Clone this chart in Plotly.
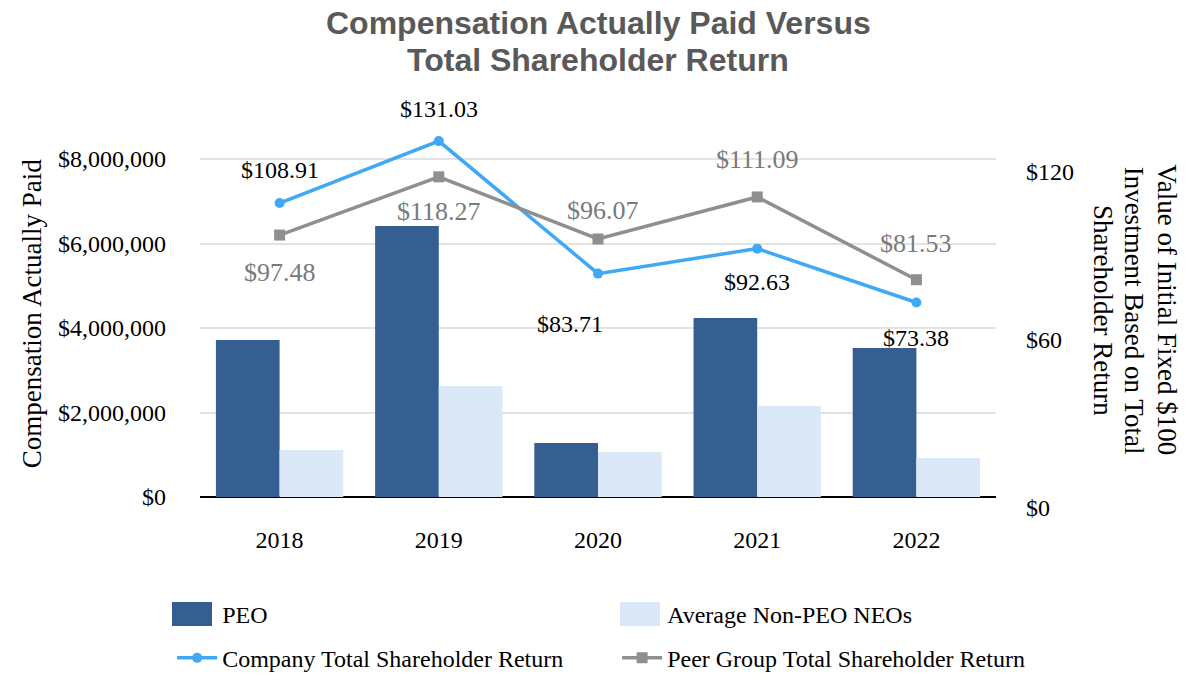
import plotly.graph_objects as go

years = ["2018", "2019", "2020", "2021", "2022"]
peo_cap = [3716000, 6414000, 1278000, 4237000, 3527000]
neo_cap = [1112000, 2627000, 1065000, 2154000, 923000]
company_tsr = [108.91, 131.03, 83.71, 92.63, 73.38]
peer_tsr = [97.48, 118.27, 96.07, 111.09, 81.53]

# label placement (style only): (xshift, yshift) in px
company_label_shift = [(0, 33), (0, 32), (-28, -50), (0, -33), (0, -35)]
peer_label_shift = [(0, -37), (0, -35), (5, 29), (0, 37), (0, 36)]

SERIF = "Liberation Serif, Times New Roman, serif"
SANS = "Liberation Sans, Arial, sans-serif"
PEO_COLOR = "#365f91"
NEO_COLOR = "#dae8f7"

fig = go.Figure()
fig.add_trace(go.Bar(x=years, y=peo_cap, name="PEO", marker_color=PEO_COLOR,
                     marker_line_width=0, legend="legend"))
fig.add_trace(go.Bar(x=years, y=neo_cap, name="Average Non-PEO NEOs",
                     marker_color=NEO_COLOR, marker_line_width=0, legend="legend"))
fig.add_trace(go.Scatter(x=years, y=company_tsr, name="Company Total Shareholder Return",
                         yaxis="y2", mode="lines+markers", legend="legend2",
                         line=dict(color="#3fa9f5", width=3.5),
                         marker=dict(symbol="circle", size=10, color="#3fa9f5")))
fig.add_trace(go.Scatter(x=years, y=peer_tsr, name="Peer Group Total Shareholder Return",
                         yaxis="y2", mode="lines+markers", legend="legend2",
                         line=dict(color="#8f8f8f", width=3.5),
                         marker=dict(symbol="square", size=11, color="#8f8f8f")))

annotations = []
# category axis: annotation x given as category index (numeric strings would be read as indices)
for i, (v, (dx, dy)) in enumerate(zip(company_tsr, company_label_shift)):
    annotations.append(dict(x=i, y=v, xref="x", yref="y2", text=f"${v:.2f}",
                            showarrow=False, xshift=dx, yshift=dy,
                            font=dict(family=SERIF, size=24, color="#000000")))
for i, (v, (dx, dy)) in enumerate(zip(peer_tsr, peer_label_shift)):
    annotations.append(dict(x=i, y=v, xref="x", yref="y2", text=f"${v:.2f}",
                            showarrow=False, xshift=dx, yshift=dy,
                            font=dict(family=SERIF, size=26, color="#7a7a7a")))

annotations.append(dict(x=-0.211, y=0.487, xref="paper", yref="paper",
                        xanchor="center", yanchor="middle",
                        text="Compensation Actually Paid", textangle=-90,
                        showarrow=False, font=dict(family=SERIF, size=27, color="#000")))
right_title_lines = ["Value of Initial Fixed $100", "Investment Based on Total",
                     "Shareholder Return"]
for line, xp in zip(right_title_lines, [1.2148, 1.1728, 1.1347]):
    annotations.append(dict(x=xp, y=0.497, xref="paper", yref="paper",
                            xanchor="center", yanchor="middle",
                            text=line, textangle=90, showarrow=False,
                            font=dict(family=SERIF, size=27, color="#000")))
title_lines = ["Compensation Actually Paid Versus", "Total Shareholder Return"]
for line, yp in zip(title_lines, [1.2186, 1.1256]):
    annotations.append(dict(x=0.5, y=yp, xref="paper", yref="paper", xanchor="center",
                            yanchor="middle", showarrow=False, text=f"<b>{line}</b>",
                            font=dict(family=SANS, size=32, color="#595959")))

# enlarged legend swatches for the bar series (decoration behind the legend icons)
shapes = [
    dict(type="rect", xref="paper", yref="paper", x0=-0.0352, x1=0.0151,
         y0=-0.2965, y1=-0.2362, fillcolor=PEO_COLOR, line_width=0, layer="above"),
    dict(type="rect", xref="paper", yref="paper", x0=0.5276, x1=0.5779,
         y0=-0.2965, y1=-0.2362, fillcolor=NEO_COLOR, line_width=0, layer="above"),
]

legend_common = dict(orientation="h", xanchor="left", yanchor="middle",
                     entrywidth=390, entrywidthmode="pixels",
                     font=dict(family=SERIF, size=24, color="#000"), itemwidth=40,
                     bgcolor="rgba(0,0,0,0)")

fig.update_layout(
    width=1200, height=700, autosize=False,
    margin=dict(l=200, r=204, t=110, b=192),
    paper_bgcolor="white", plot_bgcolor="white",
    barmode="group", bargap=0.2, bargroupgap=0,
    font=dict(family=SERIF, color="#000"),
    xaxis=dict(type="category", range=[-0.5, 4.5], autorange=False,
               tickfont=dict(family=SERIF, size=24, color="#000"),
               showgrid=False, ticks="", ticklabelstandoff=15, showline=False),
    yaxis=dict(range=[-260355, 9159763], autorange=False,
               tickvals=[0, 2000000, 4000000, 6000000, 8000000],
               ticktext=["$0", "$2,000,000", "$4,000,000", "$6,000,000", "$8,000,000"],
               tickfont=dict(family=SERIF, size=24, color="#000"),
               showgrid=True, gridcolor="#e3e3e3", gridwidth=1.5,
               zeroline=True, zerolinecolor="#000", zerolinewidth=1.5,
               ticks="", ticklabelstandoff=33, showline=False),
    yaxis2=dict(overlaying="y", side="right", range=[0, 142.14], autorange=False,
                tickvals=[0, 60, 120], ticktext=["$0", "$60", "$120"],
                tickfont=dict(family=SERIF, size=24, color="#000"),
                showgrid=False, zeroline=False, ticks="", ticklabelstandoff=29,
                showline=False),
    legend=dict(legend_common, x=-0.035, y=-0.266),
    legend2=dict(legend_common, x=-0.035, y=-0.3775),
    annotations=annotations,
    shapes=shapes,
)

# remove the default 8px page margin so the figure sits at the window's top-left corner
fig.write_html("out.html", config={"displayModeBar": False},
               post_script="document.body.style.margin='0';")
